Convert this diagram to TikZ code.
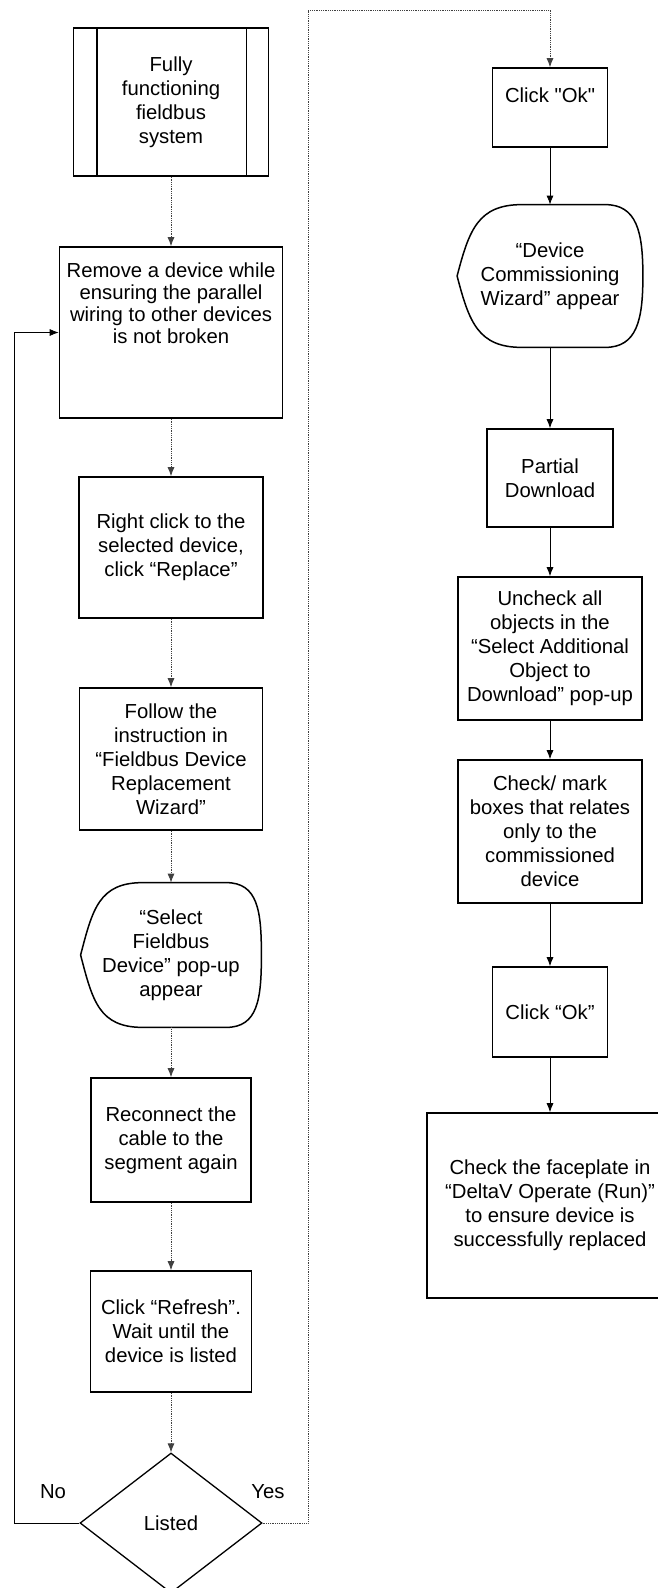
\documentclass[tikz,border=0pt]{standalone}
\usepackage{fontspec}
\setmainfont{Liberation Sans}
\newfontfamily\straightq{Liberation Sans}
\usetikzlibrary{arrows.meta,shapes.geometric,calc}

% outline of a "display" symbol round an empty node
\newcommand{\dispoutline}[1]{%
  \draw[-, line width=1.5pt] (#1.west) .. controls +(12,-46) and +(-44,0) .. ($(#1.north)+(-28,0)$)
    -- ($(#1.north)+(55,0)$) .. controls +(32,0) and +(0,-44) .. (#1.east)
    .. controls +(0,44) and +(32,0) .. ($(#1.south)+(55,0)$)
    -- ($(#1.south)+(-28,0)$) .. controls +(-44,0) and +(12,46) .. (#1.west) -- cycle;}

\begin{document}
\begin{tikzpicture}[x=1pt, y=-1pt, font=\fontsize{20.3}{24}\selectfont, -{Latex[length=9pt,width=7pt]}, line width=0.8pt,
  procbox/.style={draw, line width=1.6pt, align=center, inner sep=0pt},
  dispbox/.style={align=center, inner sep=0pt},
  decision/.style={draw, diamond, line width=1.3pt, inner sep=0pt, aspect=1.3},
  scanline/.style={densely dotted, black!75}]
	\useasboundingbox (0,0) rectangle (657,1588);
	% left column
	\node[procbox, minimum width=195pt, minimum height=148pt] (start) at (171,102) {Fully\\functioning\\fieldbus\\system};
	\draw[-, line width=1.6pt] ([xshift=24pt]start.north west) -- ([xshift=24pt]start.south west);
	\draw[-, line width=1.6pt] ([xshift=-23pt]start.north east) -- ([xshift=-23pt]start.south east);
	\node[procbox, minimum width=223pt, minimum height=171pt, font=\fontsize{20.3}{22}\selectfont] (remove) at (171,332.5) {Remove a device while\\ensuring the parallel\\wiring to other devices\\is not broken\\[36pt]\mbox{}};
	\node[procbox, minimum width=184pt, minimum height=141pt] (rclick) at (171,547.5) {Right click to the\\selected device,\\click “Replace”};
	\node[procbox, minimum width=183pt, minimum height=142pt] (follow) at (171,759) {Follow the\\instruction in\\“Fieldbus Device\\Replacement\\Wizard”};
	\node[dispbox, minimum width=180pt, minimum height=144pt] (selpop) at (171,955) {“Select\\Fieldbus\\Device” pop-up\\appear};
	\dispoutline{selpop}
	\node[procbox, minimum width=160pt, minimum height=124pt] (recon) at (171,1140) {Reconnect the\\cable to the\\segment again};
	\node[procbox, minimum width=161pt, minimum height=121pt] (refresh) at (171,1331.5) {Click “Refresh”.\\Wait until the\\device is listed};
	\node[decision, minimum width=182pt, minimum height=140pt] (listed) at (171,1523) {Listed};
	\node (no) at (53,1492) {No};
	\node (yes) at (268,1492) {Yes};
	% right column
	\node[procbox, minimum width=115pt, minimum height=79pt] (okA) at (550,107.5) {Click {\straightq"Ok"}\\[0pt]\mbox{}};
	\node[dispbox, minimum width=185pt, minimum height=142pt] (devwiz) at (550,276) {“Device\\Commissioning\\Wizard” appear};
	\dispoutline{devwiz}
	\node[procbox, minimum width=126pt, minimum height=98pt] (partial) at (550,478) {Partial\\Download};
	\node[procbox, minimum width=184pt, minimum height=143pt] (uncheck) at (550,648.5) {Uncheck all\\objects in the\\“Select Additional\\Object to\\Download” pop-up};
	\node[procbox, minimum width=184pt, minimum height=143pt] (markbox) at (550,831.5) {Check/ mark\\boxes that relates\\only to the\\commissioned\\device};
	\node[procbox, minimum width=115pt, minimum height=90pt] (okB) at (550,1012) {Click “Ok”};
	\node[procbox, minimum width=246pt, minimum height=185pt] (faceplate) at (550,1205.5) {Check the faceplate in\\“DeltaV Operate (Run)”\\to ensure device is\\successfully replaced};
	% connectors
	\draw[scanline] (start) -- (remove);
	\draw[scanline] (remove) -- (rclick);
	\draw[scanline] (rclick) -- (follow);
	\draw[scanline] (follow) -- (selpop);
	\draw[scanline] (selpop) -- (recon);
	\draw[scanline] (recon) -- (refresh);
	\draw[scanline] (refresh) -- (listed);
	\coordinate (nobend) at (14,1523);
	\draw (listed.west) -- (nobend) |- (remove.west);
	\coordinate (yesbend) at (308,1523);
	\coordinate (yestop) at (308,10);
	\draw[scanline] (listed.east) -- (yesbend) -- (yestop) -| (okA.north);
	\draw (okA) -- (devwiz);
	\draw (devwiz) -- (partial);
	\draw (partial) -- (uncheck);
	\draw (uncheck) -- (markbox);
	\draw (markbox) -- (okB);
	\draw (okB) -- (faceplate);
\end{tikzpicture}
\end{document}
